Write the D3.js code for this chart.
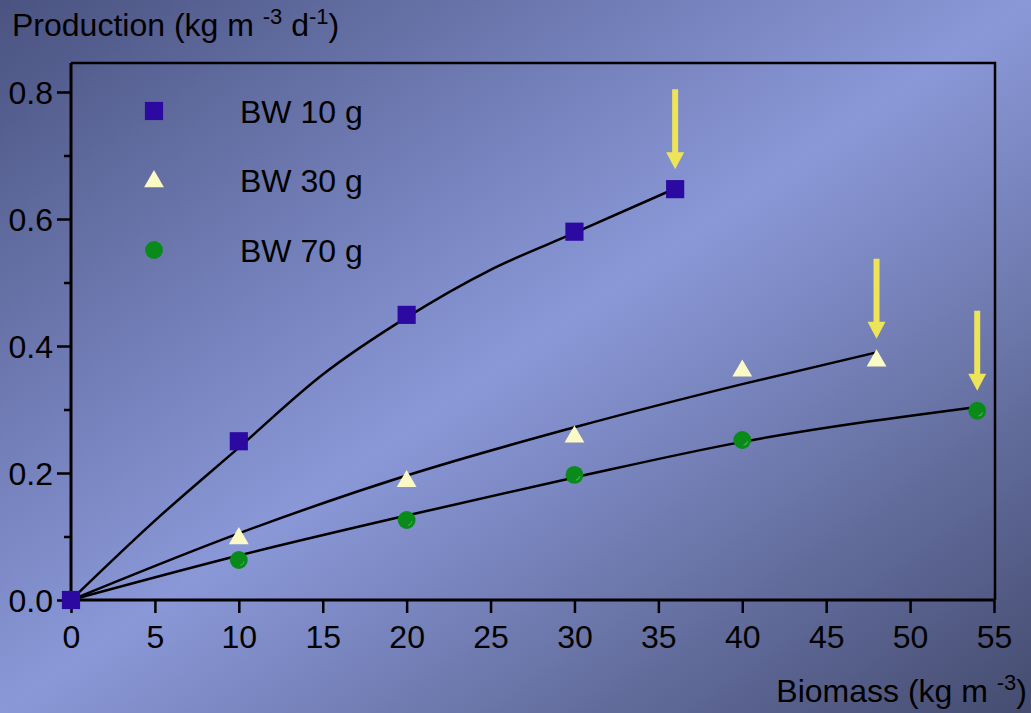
<!DOCTYPE html>
<meta charset="utf-8">
<style>
body { margin: 0; }
svg text { font-family: "Liberation Sans", Arial, sans-serif; fill: #000; }
</style>
<svg id="chart" width="1031" height="713"></svg>
<script src="https://cdn.jsdelivr.net/npm/d3@7"></script>
<script>

// observed values
let bw10x = [0, 10, 20, 30, 36],
    bw10y = [0, 0.25, 0.449, 0.58, 0.647];
let bw30x = [10, 20, 30, 40, 48],
    bw30y = [0.10, 0.19, 0.26, 0.364, 0.38];
let bw70x = [10, 20, 30, 40, 54],
    bw70y = [0.063, 0.126, 0.197, 0.252, 0.298];

// fitted curves
let fit10x = [0, 5, 10, 15, 20, 25, 30, 36],
    fit10y = [0, 0.125, 0.24, 0.355, 0.445, 0.52, 0.578, 0.648];
let fit30x = [0, 10, 20, 30, 40, 48],
    fit30y = [0, 0.105, 0.196, 0.272, 0.34, 0.39];
let fit70x = [0, 10, 20, 30, 40, 54],
    fit70y = [0, 0.07, 0.133, 0.193, 0.249, 0.304];

let legendLabels = ["BW 10 g", "BW 30 g", "BW 70 g"];
let xTicks = [0, 5, 10, 15, 20, 25, 30, 35, 40, 45, 50, 55];
let yTicks = [0, 0.2, 0.4, 0.6, 0.8];
let yMinor = [0.1, 0.3, 0.5, 0.7];

let fs = 32;
let svg = d3.select("#chart");

// background
let grad = svg.append("defs").append("linearGradient")
    .attr("id", "bg")
    .attr("x1", 0).attr("y1", 0).attr("x2", 1).attr("y2", 1);
grad.append("stop").attr("offset", 0).attr("stop-color", "#4a5380");
grad.append("stop").attr("offset", 0.5).attr("stop-color", "#8a98d8");
grad.append("stop").attr("offset", 1).attr("stop-color", "#454c70");
svg.append("rect").attr("width", 1031).attr("height", 713).attr("fill", "url(#bg)");

let x = d3.scaleLinear().domain([0, 55]).range([71, 994]);
let y = d3.scaleLinear().domain([0, 0.8]).range([600, 92]);

// frame (top and right)
svg.append("path")
    .attr("d", "M71,63 H995 V600")
    .attr("fill", "none").attr("stroke", "#000").attr("stroke-width", 2.5);

let xAxis = svg.append("g")
    .attr("transform", "translate(0,600)")
    .call(d3.axisBottom(x).tickValues(xTicks).tickFormat(d3.format("d")).tickSize(13).tickPadding(12));
let yAxis = svg.append("g")
    .attr("transform", "translate(71,0)")
    .call(d3.axisLeft(y).tickValues(yTicks).tickFormat(d3.format(".1f")).tickSize(14).tickPadding(4));
svg.append("g")
    .attr("transform", "translate(71,0)")
    .call(d3.axisLeft(y).tickValues(yMinor).tickFormat("").tickSize(7))
    .select(".domain").remove();

[xAxis, yAxis].forEach(a => {
  a.select(".domain").attr("stroke-width", 3).attr("d", a === xAxis ? "M71,0H995" : "M0,63V601");
  a.selectAll("text").attr("font-size", fs).attr("fill", "#000")
      .attr("font-family", "Liberation Sans, Arial, sans-serif");
});
svg.selectAll(".tick line").attr("stroke-width", 2.5);
yAxis.selectAll("text").attr("dy", "0.36em");

// axis titles
let t1 = svg.append("text").attr("x", 12).attr("y", 36).attr("font-size", fs);
t1.append("tspan").text("Production (kg m ");
t1.append("tspan").attr("font-size", 22).attr("dy", -12).text("-3");
t1.append("tspan").attr("dy", 12).text(" d");
t1.append("tspan").attr("font-size", 22).attr("dy", -12).text("-1");
t1.append("tspan").attr("dy", 12).text(")");

let t2 = svg.append("text").attr("x", 1027).attr("y", 702).attr("font-size", fs).attr("text-anchor", "end");
t2.append("tspan").text("Biomass (kg m  ");
t2.append("tspan").attr("font-size", 22).attr("dy", -12).text("-3");
t2.append("tspan").attr("dy", 12).text(")");

// fitted lines
let line = d3.line().x(d => x(d[0])).y(d => y(d[1])).curve(d3.curveMonotoneX);
[[fit10x, fit10y], [fit30x, fit30y], [fit70x, fit70y]].forEach(f => {
  svg.append("path")
      .attr("d", line(d3.zip(f[0], f[1])))
      .attr("fill", "none").attr("stroke", "#000").attr("stroke-width", 2.5);
});

// markers
let sym = [
  {shape: d3.symbolSquare, size: 330, fill: "#2c0aa2"},
  {shape: d3.symbolTriangle, size: 170, fill: "#fbf9c6"},
  {shape: d3.symbolCircle, size: 250, fill: "#0b8a1c"}
];
let series = [[bw10x, bw10y], [bw30x, bw30y], [bw70x, bw70y]];

// arrows at last points
let arrowG = svg.append("g");
series.forEach(s => {
  let lx = x(s[0][s[0].length - 1]), tip = y(s[1][s[1].length - 1]) - 20;
  arrowG.append("path")
      .attr("d", `M${lx - 3},${tip - 80} h6 v63 h6 l-9,17 l-9,-17 h6 z`)
      .attr("fill", "#eee45a");
});

// draw circles and triangles first, squares on top
[2, 1, 0].forEach(i => {
  let s = series[i];
  svg.append("g").selectAll("path")
      .data(d3.zip(s[0], s[1]))
    .enter().append("path")
      .attr("transform", d => `translate(${x(d[0])},${y(d[1]) + (i === 1 ? 2 : 0)})`)
      .attr("d", d3.symbol(sym[i].shape, sym[i].size))
      .attr("fill", sym[i].fill);
  if (i === 2) {
    svg.append("g").selectAll("path")
        .data(d3.zip(s[0], s[1]))
      .enter().append("path")
        .attr("d", d => d3.arc()({innerRadius: 5, outerRadius: 6, startAngle: 1.8, endAngle: 2.9}))
        .attr("transform", d => `translate(${x(d[0])},${y(d[1])})`)
        .attr("fill", "#5fbf6a").attr("opacity", 0.7);
  }
});

// legend
let legend = svg.append("g");
legendLabels.forEach((lab, i) => {
  let ly = 111 + i * 69.5;
  legend.append("path")
      .attr("transform", `translate(154,${ly + (i === 1 ? 1 : 0)})`)
      .attr("d", d3.symbol(sym[i].shape, sym[i].size))
      .attr("fill", sym[i].fill);
  legend.append("text")
      .attr("x", 240).attr("y", ly).attr("dy", "0.36em")
      .attr("font-size", fs).text(lab);
});

</script>
